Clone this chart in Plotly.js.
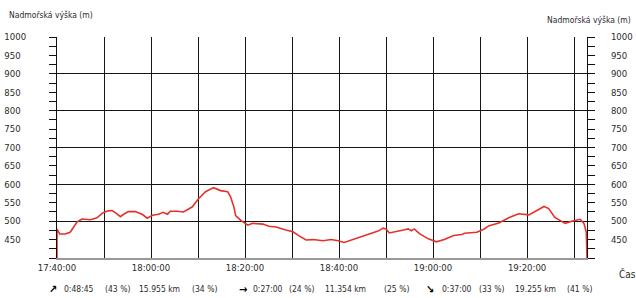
<!DOCTYPE html>
<html>
<head>
<meta charset="utf-8">
<script src="https://cdn.plot.ly/plotly-3.0.1.min.js"></script>
<style>
  html, body { margin: 0; padding: 0; background: #fff; }
  #chart { width: 636px; height: 298px; }
</style>
</head>
<body>
<div id="chart"></div>
<script>
// minutes after 17:40:00
const timeMin = [0, 0, 0.6, 1.7, 2.8, 4.3, 5.3, 7.1, 8.5, 9.8, 10.9, 11.7, 12.4, 13.5, 14.1, 15.2, 16.7, 18.2, 19.2, 20.3, 21.6, 22.6, 23.5, 24.1, 25.6, 26.9, 28.0, 28.8, 30.1, 31.6, 33.3, 34.8, 36.3, 36.9, 37.6, 38.0, 39.1, 40.6, 41.6, 43.8, 45.1, 46.6, 48.7, 50.2, 51.5, 53.0, 54.5, 56.6, 58.3, 59.8, 61.1, 63.0, 64.7, 66.8, 68.3, 69.4, 70.0, 70.7, 72.2, 73.7, 74.7, 75.4, 76.0, 77.1, 79.0, 80.7, 82.4, 84.4, 86.1, 86.7, 89.3, 90.8, 91.8, 94.0, 96.1, 98.2, 100.4, 102.5, 103.6, 104.6, 105.9, 108.1, 109.5, 111.3, 112.1, 112.6, 112.75];
// elevation (m)
const elevation = [400, 478, 465, 465, 470, 498, 506, 504, 509, 523, 528, 529, 523, 512, 518, 526, 526, 518, 508, 516, 519, 524, 519, 527, 527, 525, 533, 539, 561, 580, 591, 583, 580, 567, 540, 515, 502, 489, 494, 492, 486, 484, 476, 471, 460, 449, 450, 447, 450, 447, 442, 450, 456, 465, 473, 481, 479, 468, 471, 476, 479, 474, 479, 466, 452, 444, 450, 461, 464, 467, 470, 478, 487, 495, 509, 520, 517, 531, 540, 534, 510, 494, 500, 505, 494, 470, 400];

const xTickVals = [0, 10, 20, 30, 40, 50, 60, 70, 80, 90, 100, 110];
const xTickText = ['17:40:00', '', '18:00:00', '', '18:20:00', '', '18:40:00', '', '19:00:00', '', '19:20:00', ''];
const yLabelVals = [450, 500, 550, 600, 650, 700, 750, 800, 850, 900, 950, 1000];
const yLabelText = ['450', '500', '550', '600', '650', '700', '750', '800', '850', '900', '950', '1000'];
const yGridVals = [500, 600, 700, 800, 900, 1000];

const yTitle = 'Nadmořská výška (m)';
const xTitle = 'Čas';
const statArrows = ['↗', '→', '↘'];
const statTimes = ['0:48:45', '0:27:00', '0:37:00'];
const statTimePct = ['(43 %)', '(24 %)', '(33 %)'];
const statDist = ['15.955 km', '11.354 km', '19.255 km'];
const statDistPct = ['(34 %)', '(25 %)', '(41 %)'];

const FONT = '"DejaVu Sans Condensed", "Liberation Sans Narrow", sans-serif';
const TXT = '#2b2b2b';

// plot box in pixels
const L = 57, R = 587, T = 37, B = 258;
const px = v => (v - L) / (R - L);
const py = v => (B - v) / (B - T);

const traces = [
  { x: timeMin, y: elevation, type: 'scatter', mode: 'lines',
    line: { color: '#e5312a', width: 1.6 }, hoverinfo: 'skip', showlegend: false },
  { x: [null], y: [null], yaxis: 'y2', type: 'scatter', mode: 'lines', showlegend: false, hoverinfo: 'skip' },
  { x: [null], y: [null], yaxis: 'y3', type: 'scatter', mode: 'lines', showlegend: false, hoverinfo: 'skip' }
];

// left labels are left-aligned in the reference: pad 3-digit labels with a figure space
const leftText = yLabelText.map(t => t.length < 4 ? t + '\u2007' : t);

const yLabelAxis = (side, standoff, text) => ({
  overlaying: 'y', side: side, range: [400, 1000], tickmode: 'array', tickvals: yLabelVals, ticktext: text,
  ticks: 'outside', ticklen: 7, tickwidth: 1, tickcolor: '#111',
  minor: { tickmode: 'linear', tick0: 400, dtick: 25, ticks: 'outside', ticklen: 7, tickwidth: 1, tickcolor: '#111', showgrid: false },
  showline: true, linecolor: '#111', linewidth: 1, showgrid: false, zeroline: false,
  ticklabelstandoff: standoff,
  tickfont: { family: FONT, size: 9.5, color: TXT }, fixedrange: true
});

const annotations = [
  { text: yTitle, x: px(7), y: py(15), xref: 'paper', yref: 'paper', xanchor: 'left', yanchor: 'middle', showarrow: false, font: { family: FONT, size: 8.5, color: TXT } },
  { text: yTitle, x: px(633), y: py(20), xref: 'paper', yref: 'paper', xanchor: 'right', yanchor: 'middle', showarrow: false, font: { family: FONT, size: 8.5, color: TXT } },
  { text: xTitle, x: px(617), y: py(274), xref: 'paper', yref: 'paper', xanchor: 'left', yanchor: 'middle', showarrow: false, font: { family: FONT, size: 10, color: TXT } }
];
const groupX = [
  [47, 62, 103, 137, 190],
  [237, 251, 287, 323, 382],
  [424, 440, 477, 513, 565]
];
for (let i = 0; i < 3; i++) {
  const parts = ['<b>' + statArrows[i] + '</b>', statTimes[i], statTimePct[i], statDist[i], statDistPct[i]];
  parts.forEach((t, j) => annotations.push({
    text: t, x: px(groupX[i][j]), y: py(289), xref: 'paper', yref: 'paper',
    xanchor: 'left', yanchor: 'middle', showarrow: false,
    font: { family: FONT, size: j === 0 ? 11 : 8.5, color: j === 0 ? '#000' : TXT }
  }));
}

const layout = {
  width: 636, height: 298,
  margin: { l: L, r: 636 - R, t: T, b: 298 - B, pad: 0 },
  paper_bgcolor: '#fff', plot_bgcolor: '#fff',
  showlegend: false,
  xaxis: {
    range: [0, 112.75], tickmode: 'array', tickvals: xTickVals, ticktext: xTickText,
    showgrid: true, gridcolor: '#151515', gridwidth: 1, ticks: '',
    showline: true, linecolor: '#9a9a9a', linewidth: 2, zeroline: false,
    tickfont: { family: FONT, size: 9.5, color: TXT }, fixedrange: true
  },
  yaxis: {
    range: [400, 1000], tickmode: 'array', tickvals: yGridVals, showticklabels: false,
    showgrid: true, gridcolor: '#151515', gridwidth: 1, ticks: '', zeroline: false, showline: false, fixedrange: true
  },
  yaxis2: yLabelAxis('left', 21, leftText),
  yaxis3: yLabelAxis('right', 14, yLabelText),
  annotations: annotations
};

Plotly.newPlot('chart', traces, layout, { staticPlot: true, displayModeBar: false });
</script>
</body>
</html>
